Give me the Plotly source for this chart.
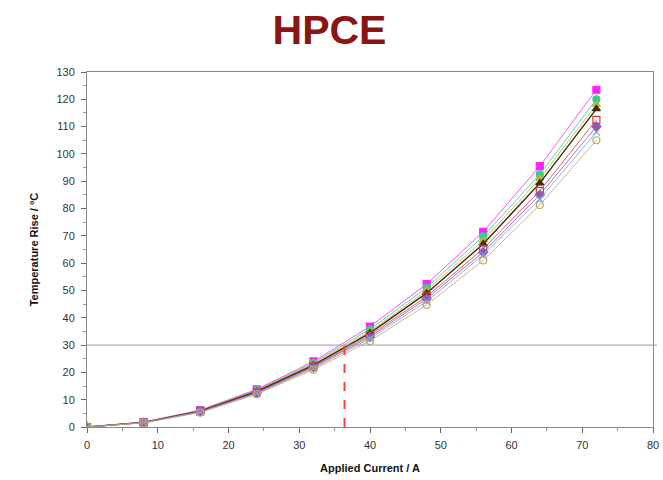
import plotly.graph_objects as go

current = [0, 8, 16, 24, 32, 40, 48, 56, 64, 72]

series_names = ["S1", "S2", "S3", "S4", "S5", "S6", "S7", "S8"]
s1 = [0, 1.8, 6.2, 13.8, 24.0, 36.8, 52.3, 71.5, 95.5, 123.5]
s2 = [0, 1.7, 6.0, 13.5, 23.5, 35.8, 51.0, 69.8, 92.5, 120.0]
s3 = [0, 1.7, 5.9, 13.3, 23.1, 35.0, 50.0, 68.3, 91.0, 118.0]
s4 = [0, 1.7, 5.8, 13.0, 22.7, 34.4, 49.0, 67.0, 89.3, 116.5]
s5 = [0, 1.6, 5.7, 12.7, 22.2, 33.6, 47.8, 65.2, 86.5, 112.5]
s6 = [0, 1.6, 5.6, 12.5, 21.9, 33.0, 47.0, 64.0, 85.0, 110.0]
s7 = [0, 1.6, 5.5, 12.3, 21.5, 32.4, 46.0, 63.0, 83.5, 108.0]
s8 = [0, 1.5, 5.3, 12.0, 21.0, 31.5, 44.7, 61.0, 81.3, 105.0]
all_series = [s1, s2, s3, s4, s5, s6, s7, s8]

threshold_temp = 30
threshold_current = 36.4

colors = ["#FF22FF", "#33CC99", "#C8B030", "#3A2A10", "#DD3333", "#8A5AB8", "#7E9BE0", "#C0A860"]
symbols = ["square", "circle", "triangle-up", "triangle-up", "square-open", "diamond", "x-thin-open", "circle-open"]
widths = [0.8, 0.8, 0.8, 1.4, 0.8, 0.8, 0.8, 0.8]

fig = go.Figure()
for name, ys, c, s, w in zip(series_names, all_series, colors, symbols, widths):
    fig.add_trace(go.Scatter(
        x=current, y=ys, mode="lines+markers", name=name,
        line=dict(color=c, width=w),
        marker=dict(color=c, symbol=s, size=7, line=dict(color=c, width=1.2)),
        showlegend=False,
    ))

# horizontal threshold line
fig.add_shape(type="line", xref="paper", yref="y", x0=0, x1=1.007,
              y0=threshold_temp, y1=threshold_temp,
              line=dict(color="#999999", width=1))
# vertical dashed line
fig.add_shape(type="line", xref="x", yref="y", x0=threshold_current, x1=threshold_current,
              y0=0, y1=threshold_temp,
              line=dict(color="#EE4444", width=2, dash="dash"))

axis_common = dict(
    showgrid=False, zeroline=False, showline=True, linecolor="#888888", linewidth=1,
    ticks="outside", ticklen=5, tickcolor="#666666",
    tickfont=dict(family="Liberation Sans, Arial", size=11, color="#333333"),
    mirror=True, automargin=False,
    minor=dict(ticks="outside", ticklen=3, tickcolor="#999999", dtick=5, showgrid=False),
)

fig.update_layout(
    width=663, height=480,
    paper_bgcolor="white", plot_bgcolor="white",
    margin=dict(l=87, r=10, t=72, b=53),
    title=dict(text="<b>HPCE</b>", x=0.497, xanchor="center", y=0.969, yanchor="top",
               font=dict(family="Liberation Sans, Arial", size=41, color="#8B1414")),
    xaxis=dict(range=[0, 80], dtick=10, ticklabelstandoff=3,
               title=dict(text="<b>Applied Current / A</b>", standoff=14,
                          font=dict(family="Liberation Sans, Arial", size=11, color="#111111")),
               **axis_common),
    yaxis=dict(range=[0, 130], dtick=10, ticklabelstandoff=4,
               title=dict(text="<b>Temperature Rise / °C</b>", standoff=15,
                          font=dict(family="Liberation Sans, Arial", size=11, color="#111111")),
               **axis_common),
)

# remove the browser's default 8px body margin so the figure fills the window exactly
fig.write_html("out.html",
               config={"displayModeBar": False},
               post_script="document.body.style.margin='0';document.body.style.overflow='hidden';")
